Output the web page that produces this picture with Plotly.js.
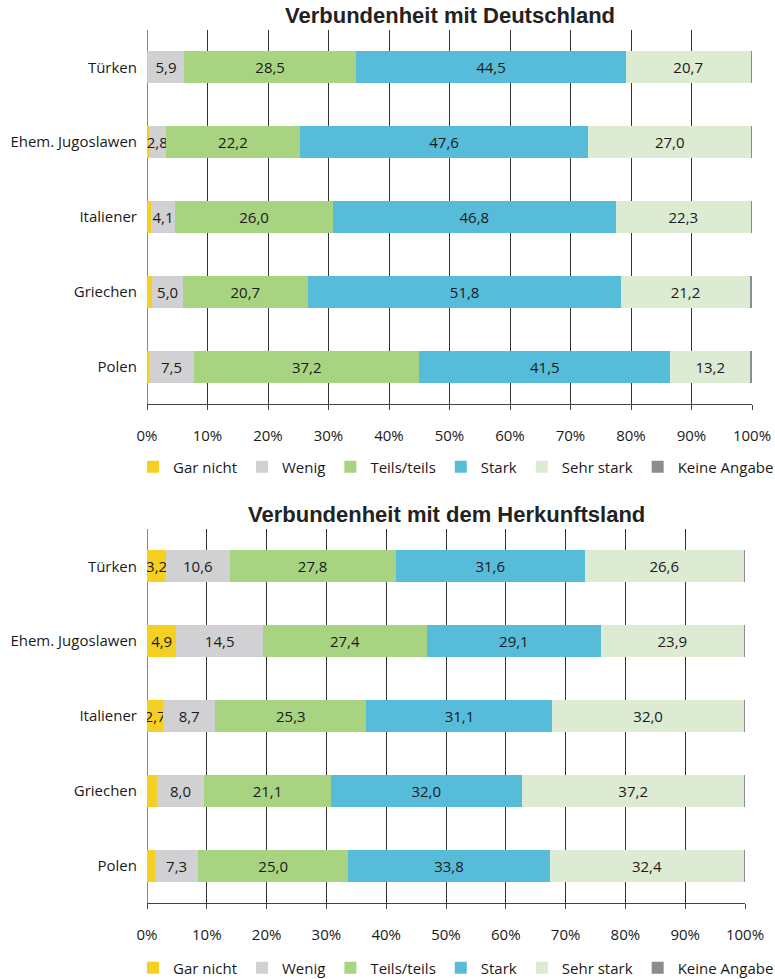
<!DOCTYPE html>
<html>
<head>
<meta charset="utf-8">
<script src="https://cdn.plot.ly/plotly-3.0.1.min.js"></script>
<style>html,body{margin:0;padding:0;background:#fff;}#chart{width:775px;height:979px;}</style>
</head>
<body>
<div id="chart"></div>
<script>
const categories = ["Türken", "Ehem. Jugoslawen", "Italiener", "Griechen", "Polen"];
const seriesNames = ["Gar nicht", "Wenig", "Teils/teils", "Stark", "Sehr stark", "Keine Angabe"];
const seriesColors = ["#F3D022", "#D1D1D3", "#A8D381", "#57BCDA", "#DCEBD1", "#8C8C90"];
const xTickVals = [0, 10, 20, 30, 40, 50, 60, 70, 80, 90, 100];
const xTickText = ["0%", "10%", "20%", "30%", "40%", "50%", "60%", "70%", "80%", "90%", "100%"];

const titleTop = "Verbundenheit mit Deutschland";
const titleBottom = "Verbundenheit mit dem Herkunftsland";

// Verbundenheit mit Deutschland
const deGarNicht = [0.2, 0.3, 0.6, 0.9, 0.3];
const deWenig    = [5.9, 2.8, 4.1, 5.0, 7.5];
const deTeils    = [28.5, 22.2, 26.0, 20.7, 37.2];
const deStark    = [44.5, 47.6, 46.8, 51.8, 41.5];
const deSehr     = [20.7, 27.0, 22.3, 21.2, 13.2];
const deKeine    = [0.2, 0.1, 0.2, 0.4, 0.3];

// Verbundenheit mit dem Herkunftsland
const hkGarNicht = [3.2, 4.9, 2.7, 1.6, 1.3];
const hkWenig    = [10.6, 14.5, 8.7, 8.0, 7.3];
const hkTeils    = [27.8, 27.4, 25.3, 21.1, 25.0];
const hkStark    = [31.6, 29.1, 31.1, 32.0, 33.8];
const hkSehr     = [26.6, 23.9, 32.0, 37.2, 32.4];
const hkKeine    = [0.2, 0.2, 0.2, 0.1, 0.2];

const deSeries = [deGarNicht, deWenig, deTeils, deStark, deSehr, deKeine];
const hkSeries = [hkGarNicht, hkWenig, hkTeils, hkStark, hkSehr, hkKeine];

const FONT = "Open Sans, Noto Sans, sans-serif";
const FS = 15;

function labels(vals, idx) {
  if (idx === 5) return vals.map(() => "");
  return vals.map(v => v >= 2 ? v.toFixed(1).replace(".", ",") : "");
}

const traces = [];
function addTraces(series, xa, ya, legendId) {
  series.forEach((vals, i) => {
    traces.push({
      type: "bar",
      orientation: "h",
      name: seriesNames[i],
      x: vals,
      y: categories,
      xaxis: xa,
      yaxis: ya,
      legend: legendId,
      marker: { color: seriesColors[i], line: { width: 0 } },
      text: labels(vals, i),
      textposition: "inside",
      insidetextanchor: "middle",
      constraintext: "none",
      textangle: 0,
      textfont: { family: FONT, size: FS, color: "#1a1a1a" },
      hoverinfo: "name+x"
    });
  });
}
addTraces(deSeries, "x", "y", "legend");
addTraces(hkSeries, "x2", "y2", "legend2");

const H = 979, W = 775;
const xAxisCommon = {
  range: [0, 100],
  tickvals: xTickVals,
  ticktext: xTickText,
  showgrid: true,
  gridcolor: "#333333",
  gridwidth: 1,
  zeroline: true,
  zerolinecolor: "#888888",
  zerolinewidth: 1,
  showline: true,
  linecolor: "#444444",
  linewidth: 1,
  ticks: "outside",
  ticklen: 5,
  tickcolor: "#444444",
  ticklabelstandoff: 13,
  tickfont: { family: FONT, size: FS, color: "#1a1a1a" },
  automargin: false,
  fixedrange: true
};
const yAxisCommon = {
  autorange: "reversed",
  showgrid: false,
  zeroline: false,
  showline: false,
  ticks: "",
  ticklabelstandoff: 9,
  tickfont: { family: FONT, size: FS, color: "#1a1a1a" },
  automargin: false,
  fixedrange: true
};

const layout = {
  width: W,
  height: H,
  margin: { l: 0, r: 0, t: 0, b: 0, autoexpand: false },
  paper_bgcolor: "#ffffff",
  plot_bgcolor: "#ffffff",
  barmode: "stack",
  bargap: 0.57,
  showlegend: true,
  font: { family: FONT, size: FS, color: "#1a1a1a" },
  xaxis: Object.assign({}, xAxisCommon, { domain: [147 / W, 752 / W], anchor: "y" }),
  yaxis: Object.assign({}, yAxisCommon, { domain: [1 - 404 / H, 1 - 30 / H], anchor: "x" }),
  xaxis2: Object.assign({}, xAxisCommon, { domain: [147 / W, 745 / W], anchor: "y2" }),
  yaxis2: Object.assign({}, yAxisCommon, { domain: [1 - 903 / H, 1 - 529 / H], anchor: "x2" }),
  legend: {
    orientation: "h",
    x: 133 / W, xanchor: "left",
    y: 1 - 467 / H, yanchor: "middle",
    traceorder: "normal",
    itemwidth: 30,
    font: { family: FONT, size: FS, color: "#1a1a1a" },
    bgcolor: "rgba(0,0,0,0)"
  },
  legend2: {
    orientation: "h",
    x: 133 / W, xanchor: "left",
    y: 1 - 968 / H, yanchor: "middle",
    traceorder: "normal",
    itemwidth: 30,
    font: { family: FONT, size: FS, color: "#1a1a1a" },
    bgcolor: "rgba(0,0,0,0)"
  },
  annotations: [
    { text: "<b>" + titleTop + "</b>", xref: "x domain", yref: "paper", x: 0.5, y: 1 - 16 / H,
      xanchor: "center", yanchor: "middle", showarrow: false,
      font: { family: "Liberation Sans, Arial, sans-serif", size: 22, color: "#222222" } },
    { text: "<b>" + titleBottom + "</b>", xref: "x2 domain", yref: "paper", x: 0.5, y: 1 - 514 / H,
      xanchor: "center", yanchor: "middle", showarrow: false,
      font: { family: "Liberation Sans, Arial, sans-serif", size: 22, color: "#222222" } }
  ]
};

Plotly.newPlot("chart", traces, layout, { displayModeBar: false, staticPlot: true });
</script>
</body>
</html>
